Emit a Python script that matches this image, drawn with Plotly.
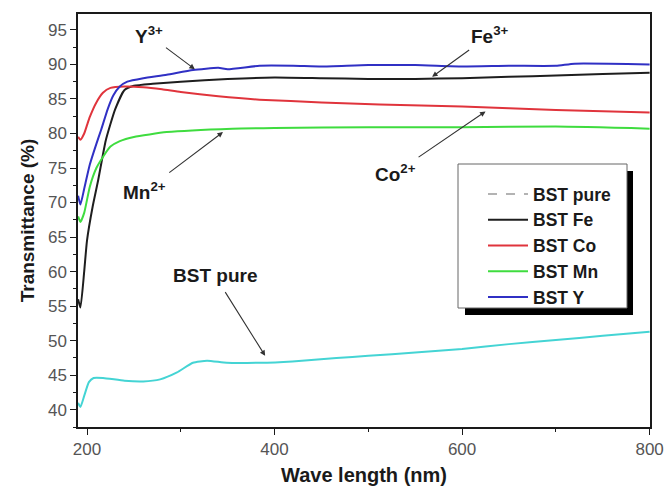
import plotly.graph_objects as go

# ---------------- data ----------------
pure_x = [190.5, 193, 197, 202, 207, 217, 240, 260, 278, 296, 313, 328, 349, 384, 419, 466, 500, 550, 600, 650, 700, 750, 800]
pure_y = [41.0, 40.4, 42.0, 44.0, 44.6, 44.6, 44.2, 44.1, 44.4, 45.4, 46.8, 47.1, 46.8, 46.8, 47.0, 47.5, 47.8, 48.3, 48.8, 49.5, 50.1, 50.7, 51.3]

fe_x = [190.5, 193, 197, 200, 206, 212, 220, 230, 240, 250, 270, 300, 350, 400, 450, 500, 550, 600, 650, 700, 750, 800]
fe_y = [56.0, 54.8, 60.0, 64.5, 69.4, 73.3, 79.0, 83.5, 86.3, 86.9, 87.2, 87.5, 87.9, 88.1, 88.0, 87.9, 87.9, 88.0, 88.2, 88.4, 88.6, 88.8]

co_x = [190.5, 193, 197, 200, 203, 210, 217, 225, 240, 260, 280, 300, 340, 384, 450, 512, 600, 700, 800]
co_y = [79.5, 79.1, 80.0, 81.2, 82.4, 84.5, 85.9, 86.6, 86.8, 86.7, 86.4, 86.0, 85.4, 84.9, 84.5, 84.2, 83.9, 83.4, 83.05]

mn_x = [190.5, 193, 197, 203, 210, 217, 225, 235, 250, 285, 355, 400, 500, 600, 700, 800]
mn_y = [68.0, 67.2, 68.5, 72.3, 75.0, 76.6, 78.1, 78.9, 79.5, 80.2, 80.7, 80.8, 80.9, 80.9, 81.0, 80.7]

y_x = [190.5, 193, 197, 203, 210, 215, 222, 228, 235, 243, 260, 285, 313, 340, 350, 384, 420, 450, 500, 550, 600, 650, 700, 720, 800]
y_y = [71.0, 69.7, 72.0, 75.5, 78.5, 80.5, 83.5, 85.5, 86.8, 87.5, 88.0, 88.5, 89.2, 89.5, 89.3, 89.8, 89.8, 89.7, 89.9, 89.9, 89.7, 89.8, 89.8, 90.1, 90.0]

x_ticks = [200, 400, 600, 800]
y_ticks = [40, 45, 50, 55, 60, 65, 70, 75, 80, 85, 90, 95]

legend_names = ["BST pure", "BST Fe", "BST Co", "BST Mn", "BST Y"]

# label text, text centre, arrow head (data coordinates), gap before arrow tail (px)
labels = [
    ("Y<sup>3+</sup>", 266, 94.3, 315, 89.3, 2),
    ("Fe<sup>3+</sup>", 630, 94.3, 568, 88.2, 3),
    ("Co<sup>2+</sup>", 529, 74.3, 625, 83.2, 4),
    ("Mn<sup>2+</sup>", 261, 71.6, 345, 80.2, 9),
    ("BST pure", 336, 59.5, 390, 47.8, 6),
]

FONT = "Liberation Sans, Arial, sans-serif"

fig = go.Figure()

# legend-only dashed entry for BST pure, then the measured curves
fig.add_trace(go.Scatter(x=[None], y=[None], mode="lines", name="<b>%s</b>" % legend_names[0],
                         line=dict(color="#9a9a9a", width=1.5, dash="dash")))
fig.add_trace(go.Scatter(x=fe_x, y=fe_y, mode="lines", name="<b>%s</b>" % legend_names[1],
                         line=dict(color="#1e1e1e", width=2, shape="spline", smoothing=0.5)))
fig.add_trace(go.Scatter(x=co_x, y=co_y, mode="lines", name="<b>%s</b>" % legend_names[2],
                         line=dict(color="#e0343c", width=2, shape="spline", smoothing=0.5)))
fig.add_trace(go.Scatter(x=mn_x, y=mn_y, mode="lines", name="<b>%s</b>" % legend_names[3],
                         line=dict(color="#3fdc3f", width=2, shape="spline", smoothing=0.5)))
fig.add_trace(go.Scatter(x=y_x, y=y_y, mode="lines", name="<b>%s</b>" % legend_names[4],
                         line=dict(color="#3030c4", width=2, shape="spline", smoothing=0.5)))
fig.add_trace(go.Scatter(x=pure_x, y=pure_y, mode="lines", showlegend=False,
                         line=dict(color="#44d4d4", width=2, shape="spline", smoothing=0.5)))

ann = []
for txt, tx, ty, hx, hy, gap in labels:
    ann.append(dict(x=hx, y=hy, ax=tx, ay=ty, xref="x", yref="y", axref="x", ayref="y",
                    text="<b>%s</b>" % txt, showarrow=True, arrowhead=2, arrowsize=1.0,
                    arrowwidth=1.1, arrowcolor="#333333", standoff=0, startstandoff=gap,
                    font=dict(family=FONT, size=19, color="#1a1a1a")))

# legend box with shadow
shapes = [
    dict(type="rect", xref="paper", yref="paper", layer="above",
         x0=(465 - 78) / 572, x1=(633 - 78) / 572, y0=(427 - 315) / 413, y1=(427 - 171) / 413,
         fillcolor="#000000", line=dict(width=0)),
    dict(type="rect", xref="paper", yref="paper", layer="above",
         x0=(458 - 78) / 572, x1=(627 - 78) / 572, y0=(427 - 308) / 413, y1=(427 - 164) / 413,
         fillcolor="#ffffff", line=dict(color="#666666", width=1)),
]

fig.update_layout(
    width=664, height=489,
    margin=dict(l=78, r=14, t=14, b=62, autoexpand=False),
    paper_bgcolor="white", plot_bgcolor="white",
    font=dict(family=FONT, color="#1a1a1a"),
    annotations=ann,
    shapes=shapes,
    legend=dict(x=(483 - 78) / 572, y=(427 - 176) / 413, xanchor="left", yanchor="top",
                bgcolor="rgba(0,0,0,0)", borderwidth=0, tracegroupgap=0,
                font=dict(family=FONT, size=17.5, color="#1a1a1a"), itemwidth=40),
    xaxis=dict(range=[190.4, 800.4], tickvals=x_ticks, ticktext=[str(v) for v in x_ticks],
               automargin=False,
               showgrid=False, zeroline=False, showline=True, linecolor="#1a1a1a", linewidth=1.5,
               mirror=True, ticks="outside", ticklen=6, tickwidth=1.2, tickcolor="#1a1a1a",
               minor=dict(tickvals=[300, 500, 700], ticks="outside", ticklen=3, tickcolor="#1a1a1a"),
               tickfont=dict(family=FONT, size=17, color="#555555"),
               title=dict(text="<b>Wave length (nm)</b>", font=dict(family=FONT, size=20, color="#1a1a1a"),
                          standoff=10)),
    yaxis=dict(range=[37.5, 97.3], tickvals=y_ticks, ticktext=[str(v) for v in y_ticks],
               automargin=False,
               showgrid=False, zeroline=False, showline=True, linecolor="#1a1a1a", linewidth=1.5,
               mirror=True, ticks="outside", ticklen=6, tickwidth=1.2, tickcolor="#1a1a1a",
               minor=dict(dtick=2.5, tick0=37.5, ticks="outside", ticklen=3, tickcolor="#1a1a1a"),
               tickfont=dict(family=FONT, size=17, color="#555555"),
               title=dict(text="<b>Transmittance (%)</b>", font=dict(family=FONT, size=19, color="#1a1a1a"),
                          standoff=8)),
)

fig.write_html("out.html")
